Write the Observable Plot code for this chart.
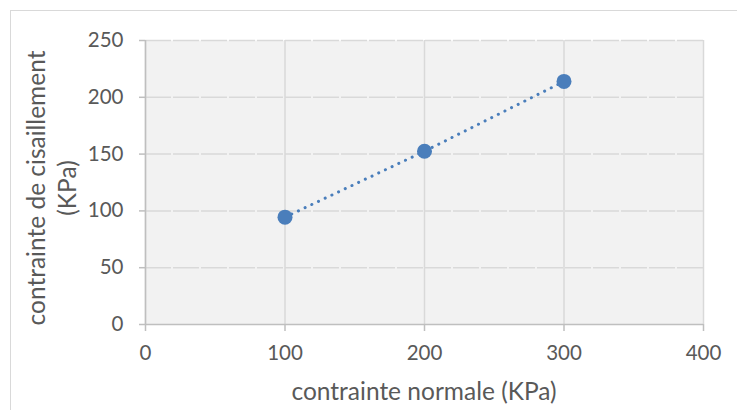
<!DOCTYPE html>
<html>
<head>
<meta charset="utf-8">
<script src="https://cdn.jsdelivr.net/npm/d3@7"></script>
<script src="https://cdn.jsdelivr.net/npm/@observablehq/plot@0.6"></script>
<style>
  html, body { margin: 0; padding: 0; background: #fff; overflow: hidden; }
  #wrap { position: relative; width: 737px; height: 410px; }
  #border { position: absolute; left: 10px; top: 10px; width: 800px; height: 500px; border: 1px solid #d9d9d9; box-sizing: border-box; }
  #chart { position: absolute; left: 0; top: 0; }
</style>
</head>
<body>
<div id="wrap"><div id="border"></div><div id="chart"></div></div>
<script>
const normalStress = [100, 200, 300];
const shearStress = [94.5, 152.5, 214];
const xTicks = [0, 100, 200, 300, 400];
const yTicks = [0, 50, 100, 150, 200, 250];
const xTitle = "contrainte normale (KPa)";
const yTitleLines = ["contrainte de cisaillement", "(KPa)"];

const data = normalStress.map((x, i) => ({x, y: shearStress[i]}));
const blue = "#4a7ebb";
const textColor = "#595959";

const plot = Plot.plot({
  width: 737,
  height: 410,
  marginLeft: 145,
  marginRight: 34,
  marginTop: 40,
  marginBottom: 86,
  style: {fontFamily: "Lato, sans-serif", background: "transparent"},
  x: {domain: [0, 400]},
  y: {domain: [0, 250]},
  marks: [
    Plot.frame({fill: "#f2f2f2", stroke: null}),
    Plot.gridX(xTicks, {stroke: "#d9d9d9", strokeOpacity: 1, strokeWidth: 1.5}),
    Plot.gridY(yTicks.filter(d => d > 0), {stroke: "#d9d9d9", strokeOpacity: 1, strokeWidth: 1.5, strokeDasharray: "26,2"}),
    Plot.ruleX([0], {stroke: "#bfbfbf", strokeWidth: 1.5}),
    Plot.ruleY([0], {stroke: "#bfbfbf", strokeWidth: 1.5}),
    Plot.axisX(xTicks, {tickSize: 7, tickPadding: 14, stroke: "#bfbfbf", strokeWidth: 1.5, fill: textColor, fontSize: 20.5, label: null}),
    Plot.axisY(yTicks, {tickSize: 6, tickPadding: 16, stroke: "#bfbfbf", strokeWidth: 1.5, fill: textColor, fontSize: 20.5, label: null}),
    Plot.line(data, {x: "x", y: "y", stroke: blue, strokeWidth: 3, strokeDasharray: "0.1,7.3", strokeLinecap: "round"}),
    Plot.dot(data, {x: "x", y: "y", r: 7.5, fill: blue, stroke: null})
  ]
});

const svg = d3.select(plot);
svg.append("text")
  .attr("x", 424).attr("y", 390)
  .attr("text-anchor", "middle").attr("dominant-baseline", "central")
  .attr("fill", textColor).attr("font-size", 24.5).attr("font-family", "Lato, sans-serif")
  .text(xTitle);
const yCenter = 188;
[35, 66].forEach((cx, i) => {
  svg.append("text")
    .attr("transform", `translate(${cx},${yCenter}) rotate(-90)`)
    .attr("text-anchor", "middle").attr("dominant-baseline", "central")
    .attr("fill", textColor).attr("font-size", 24.5).attr("font-family", "Lato, sans-serif")
    .text(yTitleLines[i]);
});

document.getElementById("chart").appendChild(plot);
</script>
</body>
</html>
